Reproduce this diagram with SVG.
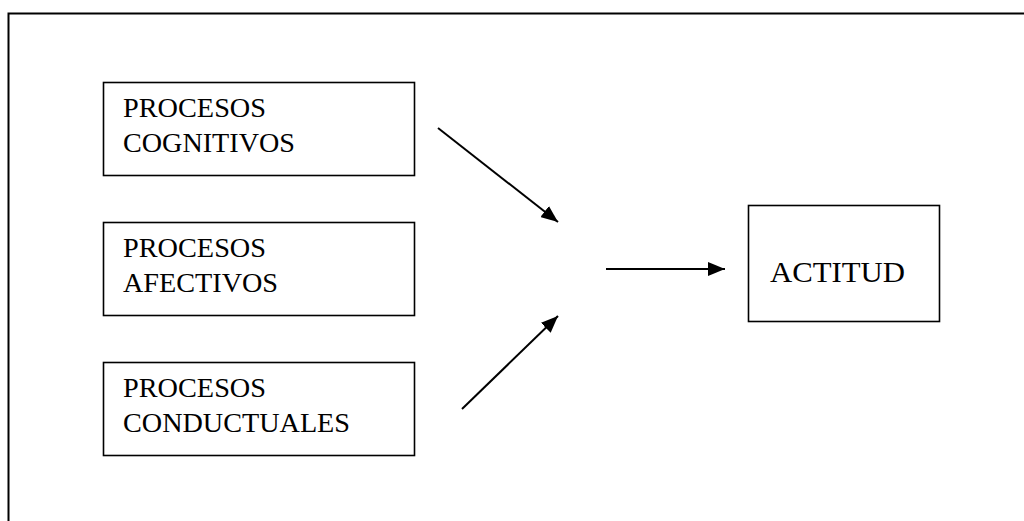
<svg xmlns="http://www.w3.org/2000/svg" width="1024" height="521" viewBox="0 0 1024 521">
<style>
.box{fill:#fff;stroke:#000;stroke-width:1.6}
.lbl{font-family:"Liberation Serif","Times New Roman",serif;font-size:27px;fill:#000}
.big{font-size:30px}
.edge{stroke:#000;stroke-width:2;fill:none;marker-end:url(#ah)}
</style>
<defs>
<marker id="ah" viewBox="0 0 10 10" refX="10" refY="5" markerWidth="17" markerHeight="14" markerUnits="userSpaceOnUse" orient="auto" preserveAspectRatio="none">
<path d="M0,0 L10,5 L0,10 z" fill="#000"/>
</marker>
</defs>
<rect width="1024" height="521" fill="#fff"/>
<g id="frame">
<path d="M8.5,530 L8.5,13.5 L1030,13.5" fill="none" stroke="#000" stroke-width="2"/>
</g>
<g id="n1">
<rect class="box" x="103.5" y="82.5" width="311" height="93"/>
<text class="lbl" x="123" y="117" textLength="143" lengthAdjust="spacingAndGlyphs">PROCESOS</text>
<text class="lbl" x="123" y="152" textLength="172" lengthAdjust="spacingAndGlyphs">COGNITIVOS</text>
</g>
<g id="n2">
<rect class="box" x="103.5" y="222.5" width="311" height="93"/>
<text class="lbl" x="123" y="257" textLength="143" lengthAdjust="spacingAndGlyphs">PROCESOS</text>
<text class="lbl" x="123" y="292" textLength="155" lengthAdjust="spacingAndGlyphs">AFECTIVOS</text>
</g>
<g id="n3">
<rect class="box" x="103.5" y="362.5" width="311" height="93"/>
<text class="lbl" x="123" y="397" textLength="143" lengthAdjust="spacingAndGlyphs">PROCESOS</text>
<text class="lbl" x="123" y="432" textLength="227" lengthAdjust="spacingAndGlyphs">CONDUCTUALES</text>
</g>
<g id="n4">
<rect class="box" x="748.5" y="205.5" width="191" height="116"/>
<text class="lbl big" x="770" y="282" textLength="135" lengthAdjust="spacingAndGlyphs">ACTITUD</text>
</g>
<g id="connectors">
<line class="edge" x1="438" y1="128" x2="558" y2="222"/>
<line class="edge" x1="462" y1="409" x2="558" y2="316"/>
<line class="edge" x1="606" y1="269" x2="725" y2="269"/>
</g>
</svg>
